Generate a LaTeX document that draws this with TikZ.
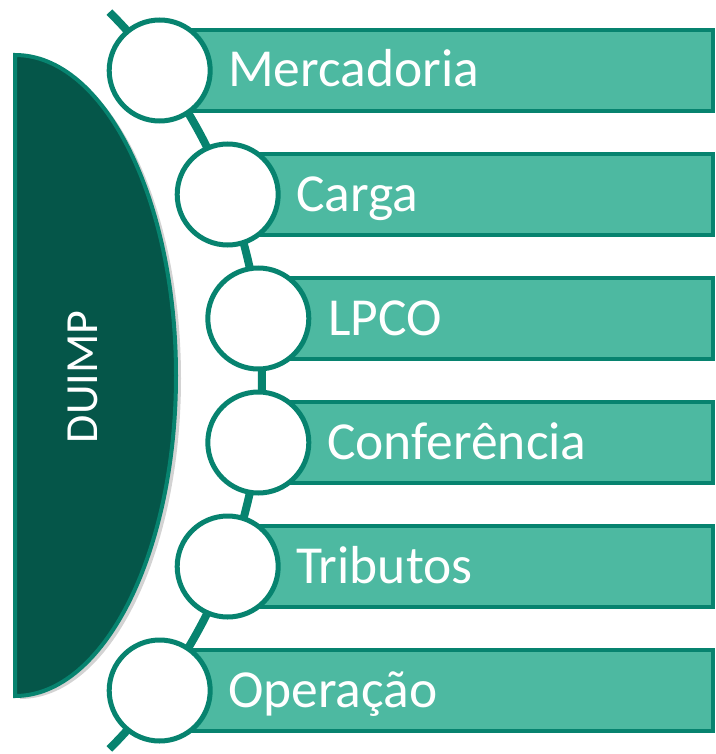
\documentclass[tikz,border=0pt]{standalone}
\usepackage{fontspec}
\setmainfont{Carlito}
\usetikzlibrary{shadows}

\definecolor{barfill}{HTML}{4DB9A1}
\definecolor{rimteal}{HTML}{07836F}
\definecolor{duimpfill}{HTML}{055649}

\begin{document}
\begin{tikzpicture}[x=1pt,y=-1pt,
    barbox/.style={shape=rectangle, draw=rimteal, fill=barfill, line width=4, anchor=west, inner sep=0, minimum height=81},
    ringnode/.style={shape=circle, draw=rimteal, fill=white, line width=5, minimum size=101, inner sep=0},
    bartext/.style={anchor=base west, text=white, inner sep=0, font=\fontsize{53.5}{60}\selectfont}]
  \useasboundingbox (0,0) rectangle (715,754);

  % half ellipse on the left
  \draw [rimteal, line width=4, fill=duimpfill,
         drop shadow={shadow xshift=5pt, shadow yshift=-3pt, opacity=.35}]
        (15,55) arc [start angle=-90, end angle=90, x radius=161, y radius=320.5] -- cycle;
  \node [rotate=90, text=white, font=\fontsize{46}{54}\selectfont] (duimp) at (83,377) {DUIMP};

  % bars
  \path (159.7,70.5)  node [barbox, minimum width=551.3] (bar1) {}
        (227.7,194.5) node [barbox, minimum width=483.3] (bar2) {}
        (258.3,318.5) node [barbox, minimum width=452.7] (bar3) {}
        (258.3,442.5) node [barbox, minimum width=452.7] (bar4) {}
        (227.7,566.5) node [barbox, minimum width=483.3] (bar5) {}
        (159.7,690.5) node [barbox, minimum width=551.3] (bar6) {}
  ;

  % backbone arc
  \coordinate (arctop) at (109.4,12.1);
  \draw [rimteal, line width=8] (arctop) arc [start angle=-45, end angle=45, radius=521] coordinate (arcbot);

  % rings
  \path (159.7,70.5)  node [ringnode] (ring1) {}
        (227.7,194.5) node [ringnode] (ring2) {}
        (258.3,318.5) node [ringnode] (ring3) {}
        (258.3,442.5) node [ringnode] (ring4) {}
        (227.7,566.5) node [ringnode] (ring5) {}
        (159.7,690.5) node [ringnode] (ring6) {}
  ;

  % labels
  \path (228,87)  node [bartext] (txt1) {Mercadoria}
        (296,211) node [bartext] (txt2) {Carga}
        (328,335) node [bartext] (txt3) {LPCO}
        (327,459) node [bartext] (txt4) {Conferência}
        (296,583) node [bartext] (txt5) {Tributos}
        (228,707) node [bartext] (txt6) {Operação}
  ;
\end{tikzpicture}
\end{document}
